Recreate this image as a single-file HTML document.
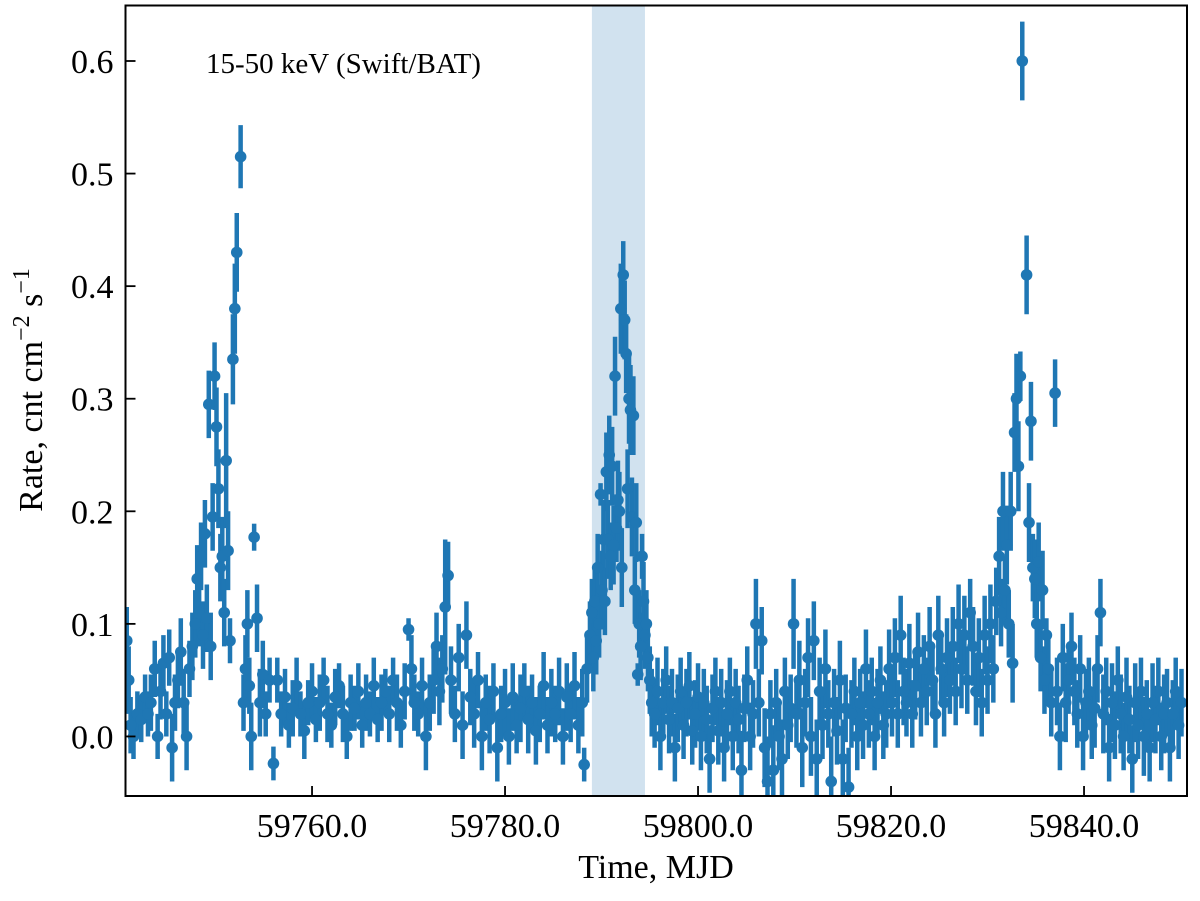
<!DOCTYPE html>
<html><head><meta charset="utf-8"><style>
body{margin:0;background:#fff;}
svg text{font-family:"Liberation Serif","DejaVu Serif",serif;fill:#000;}
</style></head><body>
<svg id="chart" width="1200" height="896" xmlns="http://www.w3.org/2000/svg">
<defs><clipPath id="clip"><rect x="125.5" y="5.5" width="1061.5" height="790.5"/></clipPath></defs>
<rect x="0" y="0" width="1200" height="896" fill="#fff"/>
<g id="marks" clip-path="url(#clip)"></g>
<g id="axes"></g>
</svg>
<script>
const times=[59740.8,59741.0,59741.2,59741.5,59741.9,59742.3,59742.7,59743.0,59743.3,59743.7,59744.0,59744.3,59744.6,59744.9,59745.2,59745.5,59745.8,59746.1,59746.4,59746.7,59747.0,59747.3,59747.6,
59747.9,59748.1,59748.3,59748.5,59748.7,59748.9,59749.1,59749.3,59749.5,59749.7,59749.9,59750.1,59750.3,59750.5,59750.7,59750.9,59751.1,59751.3,59751.5,59751.8,59752.0,59752.2,59752.6,59752.9,59753.1,59753.3,59753.5,59753.7,59754.0,59754.3,59754.6,59754.9,59755.2,59755.6,59756.0,59756.4,
59756.8,59757.2,59757.6,59758.0,59758.4,59758.8,59759.2,59759.6,59760.0,59760.4,59760.8,59761.2,59761.6,59762.0,59762.4,59762.8,59763.2,59763.6,59764.0,59764.4,59764.8,59765.2,59765.6,59766.0,59766.4,59766.8,59767.2,59767.6,59768.0,59768.4,59768.8,59769.2,59769.6,59770.0,59770.3,59770.6,59771.0,59771.4,59771.8,59772.2,59772.6,59772.9,59773.2,59773.5,59773.8,59774.1,59774.4,59774.8,59775.2,59775.6,59776.0,59776.4,59776.8,59777.2,59777.6,59778.0,59778.4,59778.8,59779.2,59779.6,59780.0,59780.4,59780.8,59781.2,59781.6,59782.0,59782.4,59782.8,59783.2,59783.6,59784.0,59784.4,59784.8,59785.2,59785.6,59786.0,59786.4,59786.8,59787.2,59787.6,59788.0,59788.2,59788.5,
59788.8,59789.0,59789.15,59789.3,59789.45,59789.6,59789.75,59789.9,59790.05,59790.2,59790.35,59790.5,59790.65,59790.8,59790.95,59791.1,59791.25,59791.4,59791.55,59791.7,59791.85,59792.0,59792.1,59792.25,59792.4,59792.55,59792.7,59792.85,59793.0,59793.15,59793.3,59793.45,59793.6,59793.75,59793.9,59794.05,59794.2,59794.35,59794.5,59794.65,59794.8,59795.0,59795.2,
59795.5,59795.8,59796.1,59796.4,59796.7,59797.0,59797.3,59797.6,59797.9,59798.2,59798.5,59798.8,59799.1,59799.4,59799.7,59800.0,59800.3,59800.6,59800.9,59801.2,59801.5,59801.8,59802.1,59802.4,59802.7,59803.0,59803.3,59803.6,59803.9,59804.2,59804.5,59804.8,59805.1,59805.4,59805.7,59806.0,59806.3,59806.6,59806.9,59807.2,59807.5,59807.8,59808.1,59808.4,59808.7,59809.0,59809.3,59809.6,59809.9,59810.2,59810.5,59810.8,59811.1,59811.4,59811.7,59812.0,59812.3,59812.6,59812.9,59813.2,59813.5,59813.8,59814.1,59814.4,59814.7,59815.0,59815.3,59815.6,59815.9,59816.2,59816.5,59816.8,59817.1,59817.4,59817.7,59818.0,59818.3,59818.6,59818.9,59819.2,59819.5,59819.8,59820.1,59820.4,59820.7,59821.0,59821.3,59821.6,59821.9,59822.2,59822.5,59822.8,59823.1,59823.4,59823.7,59824.0,59824.3,59824.6,59824.9,59825.2,59825.5,59825.8,59826.1,59826.4,59826.7,59827.0,59827.3,59827.6,59827.9,59828.2,59828.5,59828.8,59829.1,59829.4,59829.7,59830.0,59830.3,59830.6,59830.9,
59831.2,59831.4,59831.6,59831.8,59832.0,59832.2,59832.4,59832.6,59832.8,59833.0,59833.2,59833.4,59833.6,59834.05,59834.5,59834.3,59834.7,59834.9,59835.1,59835.3,59835.5,59835.7,59835.9,59836.1,59836.3,59836.6,59837.0,59837.2,59837.5,59837.8,59838.1,
59838.4,59838.7,59839.0,59839.3,59839.6,59839.9,59840.2,59840.5,59840.8,59841.1,59841.4,59841.7,59842.0,59842.3,59842.6,59842.9,59843.2,59843.5,59843.8,59844.1,59844.4,59844.7,59845.0,59845.3,59845.6,59845.9,59846.2,59846.5,59846.8,59847.1,59847.4,59847.7,59848.0,59848.3,59848.6,59848.9,59849.2,59849.5,59849.8,59850.1,59850.4,59850.6];
const rates=[0.085,0.05,0.01,0.0,0.02,0.015,0.035,0.02,0.03,0.06,0.0,0.04,0.065,0.02,0.07,-0.01,0.03,0.05,0.075,0.03,0.0,0.06,0.08,
0.1,0.14,0.11,0.16,0.09,0.18,0.105,0.295,0.08,0.195,0.32,0.275,0.22,0.15,0.16,0.11,0.245,0.165,0.085,0.335,0.38,0.43,0.515,0.03,0.06,0.1,0.045,0.0,0.177,0.105,0.03,0.055,0.02,0.05,-0.024,0.05,
0.02,0.035,0.01,0.025,0.045,0.02,0.005,0.03,0.04,0.015,0.03,0.05,0.02,0.01,0.035,0.045,0.02,0.0,0.03,0.025,0.04,0.01,0.03,0.02,0.045,0.015,0.03,0.04,0.02,0.05,0.03,0.01,0.04,0.095,0.06,0.03,0.02,0.045,0.0,0.03,0.05,0.08,0.04,0.06,0.115,0.143,0.05,0.02,0.07,0.01,0.09,0.035,0.02,0.05,0.0,0.03,0.015,0.04,-0.01,0.02,0.03,0.0,0.035,0.01,0.025,0.04,0.015,0.03,0.005,0.02,0.045,0.01,0.03,0.02,0.04,0.0,0.035,0.02,0.045,0.01,0.03,-0.025,0.06,
0.09,0.11,0.07,0.12,0.085,0.15,0.1,0.215,0.13,0.175,0.12,0.235,0.175,0.25,0.16,0.24,0.17,0.32,0.185,0.21,0.2,0.38,0.15,0.41,0.37,0.34,0.22,0.3,0.29,0.195,0.285,0.13,0.19,0.055,0.1,0.08,0.16,0.12,0.09,0.1,0.07,0.05,0.03,
0.02,0.04,0.0,0.03,0.05,0.015,0.03,-0.01,0.025,0.04,0.01,0.03,0.045,0.005,0.02,0.035,0.0,0.03,0.015,-0.02,0.025,0.04,0.005,0.03,-0.01,0.02,0.04,0.0,0.03,0.015,-0.03,0.025,0.05,0.0,0.02,0.1,0.03,0.085,-0.01,-0.04,0.02,-0.03,0.03,0.0,-0.02,0.04,0.01,0.025,0.1,0.02,0.05,-0.01,0.03,0.07,0.0,0.085,-0.02,0.04,0.01,0.06,0.02,-0.04,0.03,0.005,0.05,-0.02,0.025,-0.045,0.02,0.04,0.0,0.03,0.01,0.06,0.02,0.04,0.0,0.03,0.05,0.01,0.02,0.06,0.03,0.07,0.02,0.09,0.04,0.03,0.065,0.02,0.045,0.075,0.03,0.06,0.04,0.08,0.05,0.02,0.09,0.06,0.03,0.07,0.05,0.08,0.04,0.1,0.06,0.09,0.05,0.11,0.08,0.04,0.07,0.03,0.09,0.05,0.1,0.06,0.12,
0.16,0.11,0.2,0.13,0.17,0.1,0.2,0.065,0.27,0.3,0.24,0.32,0.6,0.41,0.28,0.19,0.15,0.14,0.1,0.155,0.07,0.13,0.05,0.09,0.06,0.03,0.305,0.04,0.0,0.07,0.03,
0.05,0.08,0.04,0.02,0.06,0.0,0.03,0.04,0.01,0.025,0.06,0.11,0.02,0.04,-0.01,0.03,0.01,0.05,0.02,0.0,0.035,0.015,-0.02,0.03,0.01,0.04,0.0,0.02,-0.01,0.03,0.015,0.04,0.0,0.02,0.03,-0.01,0.02,0.04,0.01,0.03,0.0,0.02];
const errs=[0.03,0.03,0.025,0.02,0.02,0.02,0.02,0.02,0.025,0.025,0.02,0.025,0.025,0.02,0.025,0.03,0.025,0.025,0.03,0.03,0.03,0.025,0.03,
0.03,0.03,0.03,0.03,0.03,0.03,0.03,0.03,0.03,0.03,0.03,0.035,0.035,0.03,0.035,0.03,0.06,0.035,0.02,0.04,0.04,0.035,0.028,0.025,0.03,0.03,0.025,0.03,0.012,0.03,0.03,0.03,0.02,0.02,0.015,0.02,
0.02,0.025,0.02,0.025,0.025,0.02,0.025,0.02,0.025,0.02,0.025,0.02,0.025,0.02,0.025,0.02,0.025,0.02,0.025,0.02,0.025,0.02,0.025,0.02,0.025,0.02,0.025,0.02,0.025,0.02,0.025,0.02,0.025,0.01,0.03,0.025,0.02,0.025,0.03,0.025,0.03,0.03,0.03,0.03,0.06,0.03,0.03,0.025,0.03,0.03,0.03,0.025,0.03,0.025,0.03,0.025,0.03,0.025,0.03,0.025,0.03,0.025,0.03,0.025,0.03,0.025,0.03,0.025,0.03,0.025,0.03,0.025,0.03,0.025,0.03,0.025,0.03,0.025,0.03,0.025,0.03,0.015,0.03,
0.03,0.03,0.03,0.03,0.03,0.03,0.03,0.01,0.035,0.035,0.03,0.035,0.035,0.035,0.03,0.035,0.035,0.035,0.03,0.035,0.035,0.04,0.035,0.03,0.035,0.035,0.035,0.04,0.04,0.035,0.035,0.03,0.035,0.01,0.03,0.03,0.02,0.035,0.03,0.03,0.03,0.03,0.03,
0.03,0.03,0.03,0.03,0.03,0.03,0.03,0.03,0.03,0.03,0.03,0.03,0.03,0.03,0.03,0.03,0.03,0.03,0.03,0.03,0.03,0.03,0.03,0.03,0.03,0.03,0.03,0.03,0.03,0.03,0.035,0.03,0.03,0.03,0.03,0.04,0.03,0.03,0.035,0.04,0.03,0.04,0.03,0.03,0.035,0.03,0.03,0.03,0.04,0.03,0.035,0.035,0.03,0.035,0.035,0.035,0.035,0.03,0.03,0.035,0.03,0.04,0.03,0.03,0.035,0.035,0.03,0.035,0.03,0.03,0.03,0.03,0.03,0.035,0.03,0.03,0.03,0.03,0.03,0.03,0.03,0.035,0.03,0.035,0.03,0.035,0.03,0.03,0.035,0.03,0.03,0.035,0.03,0.03,0.03,0.035,0.03,0.03,0.035,0.03,0.03,0.035,0.03,0.035,0.03,0.035,0.035,0.035,0.03,0.03,0.035,0.03,0.035,0.03,0.035,0.03,0.035,
0.03,0.03,0.035,0.03,0.035,0.03,0.035,0.03,0.035,0.035,0.035,0.04,0.04,0.022,0.035,0.035,0.035,0.035,0.03,0.035,0.03,0.035,0.03,0.035,0.03,0.015,0.03,0.03,0.03,0.03,0.03,
0.03,0.035,0.03,0.03,0.03,0.03,0.03,0.03,0.03,0.03,0.03,0.035,0.03,0.03,0.035,0.03,0.03,0.035,0.03,0.03,0.035,0.03,0.035,0.03,0.03,0.035,0.03,0.03,0.035,0.03,0.03,0.035,0.03,0.03,0.03,0.035,0.03,0.03,0.03,0.03,0.03,0.03];
const bandRange=[59789.0,59794.5];
const xTicks=[59760,59780,59800,59820,59840];
const xTickLabels=["59760.0","59780.0","59800.0","59820.0","59840.0"];
const yTicks=[0.0,0.1,0.2,0.3,0.4,0.5,0.6];
const yTickLabels=["0.0","0.1","0.2","0.3","0.4","0.5","0.6"];

const L=125.5,R=1187,T=5.5,B=796;
const X0=59740.67,X1=59850.67,Y0=-0.0529,Y1=0.6493;
const sx=v=>L+(v-X0)/(X1-X0)*(R-L);
const sy=v=>B-(v-Y0)/(Y1-Y0)*(B-T);
const NS="http://www.w3.org/2000/svg";
function mk(tag,attrs,parent){const e=document.createElementNS(NS,tag);for(const k in attrs)e.setAttribute(k,attrs[k]);parent.appendChild(e);return e;}
const marks=document.getElementById('marks'),axes=document.getElementById('axes');
const band=mk('rect',{x:sx(bandRange[0]),y:T,width:sx(bandRange[1])-sx(bandRange[0]),height:B-T,fill:'#d1e2ef'},marks);


const n=Math.min(times.length,rates.length,errs.length);
for(let i=0;i<n;i++){
  const x=sx(times[i]);
  const eb=mk('line',{x1:x,x2:x,y1:sy(rates[i]-errs[i]),y2:sy(rates[i]+errs[i]),stroke:'#1f77b4','stroke-width':4.5},marks);
  
  
}
for(let i=0;i<n;i++){
  const c=mk('circle',{cx:sx(times[i]),cy:sy(rates[i]),r:5.8,fill:'#1f77b4'},marks);
  
  
}
const frame=mk('rect',{x:L,y:T,width:R-L,height:B-T,fill:'none',stroke:'#000','stroke-width':2},axes);


xTicks.forEach((v,i)=>{
  const x=sx(v);
  const t=mk('line',{x1:x,x2:x,y1:B,y2:B-10,stroke:'#000','stroke-width':1.8},axes);
  
  
  const lb=mk('text',{x:x,y:B+41,'text-anchor':'middle','font-size':34},axes);
  lb.textContent=xTickLabels[i];
  
  
});
yTicks.forEach((v,i)=>{
  const y=sy(v);
  const t=mk('line',{x1:L,x2:L+10,y1:y,y2:y,stroke:'#000','stroke-width':1.8},axes);
  
  
  const lb=mk('text',{x:L-12,y:y+12,'text-anchor':'end','font-size':34},axes);
  lb.textContent=yTickLabels[i];
  
  
});
</script>
<svg style="position:absolute;left:0;top:0" width="1200" height="896" xmlns="http://www.w3.org/2000/svg">
<text x="656" y="878" text-anchor="middle" font-size="34" style="font-family:'Liberation Serif',serif">Time, MJD</text>
<text transform="translate(42,390) rotate(-90)" text-anchor="middle" font-size="34" style="font-family:'Liberation Serif',serif">Rate, cnt cm<tspan dy="-13" font-size="24">−2</tspan><tspan dy="13"> s</tspan><tspan dy="-13" font-size="24">−1</tspan></text>
<text x="206" y="73" font-size="29" style="font-family:'Liberation Serif',serif">15-50 keV (Swift/BAT)</text>
</svg>
</body></html>
